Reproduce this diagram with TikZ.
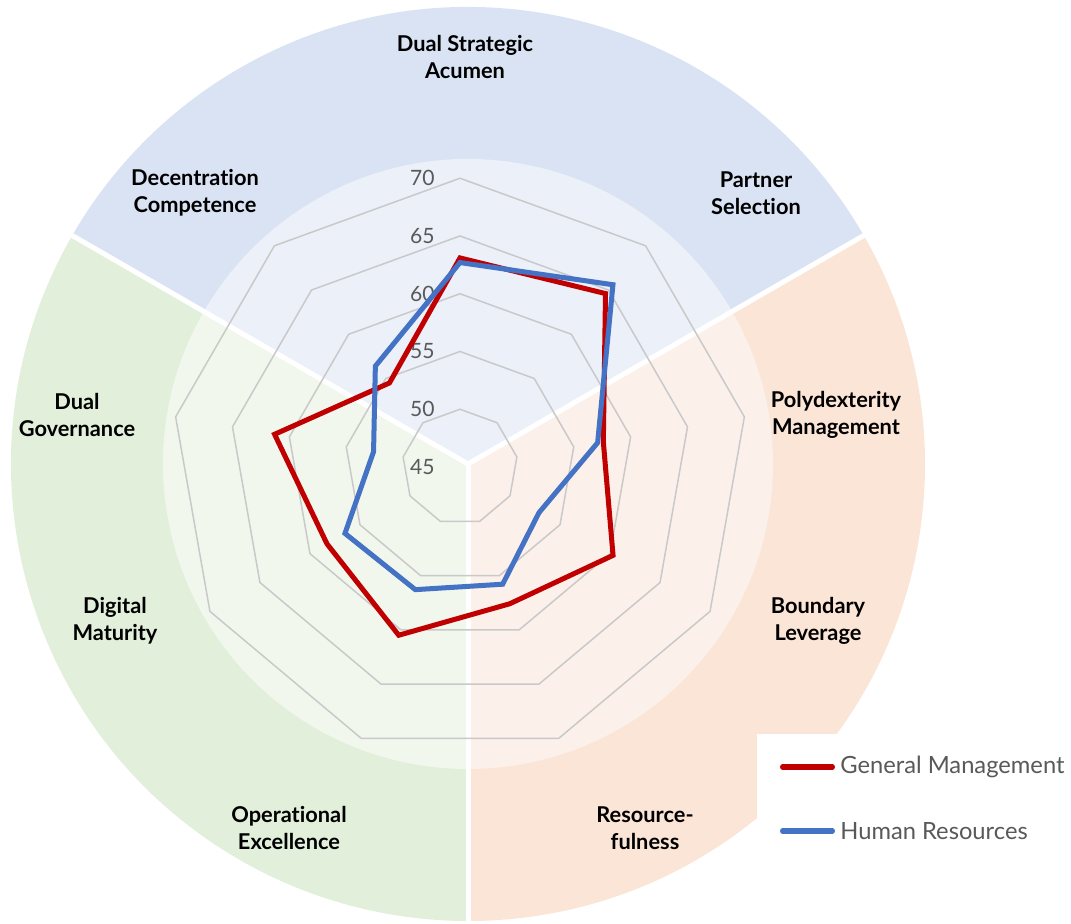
\documentclass[tikz,border=0pt]{standalone}
\usepackage{fontspec}
\setmainfont{Lato}[Ligatures=NoCommon]
\usetikzlibrary{positioning}

\definecolor{sectblue}{HTML}{DAE3F3}
\definecolor{sectbluein}{HTML}{EBF0F9}
\definecolor{sectgreen}{HTML}{E2EFDA}
\definecolor{sectgreenin}{HTML}{F1F7ED}
\definecolor{sectorange}{HTML}{FBE5D6}
\definecolor{sectorangein}{HTML}{FCF0EA}
\definecolor{gmred}{HTML}{C00000}
\definecolor{hrblue}{HTML}{4472C4}
\definecolor{txtgray}{HTML}{595959}
\definecolor{gridgray}{HTML}{C9C9C9}

\tikzset{
	axislabel/.style={font=\bfseries\fontsize{12.4}{15.3}\selectfont, align=center, text=black},
	scalelabel/.style={font=\fontsize{12}{14}\selectfont, text=txtgray, anchor=east, inner sep=0pt},
	gridline/.style={gridgray, line width=0.85pt},
	series/.style={line width=2.85pt},
	legendtext/.style={font=\fontsize{13.5}{16}\selectfont, text=txtgray, anchor=west, inner sep=0pt}
}

\begin{document}
\begin{tikzpicture}
	\def \R{9.14cm}
	\def \r{6.1cm}
	\def \u{0.231}
	
	\useasboundingbox (-9.2,-9.14) rectangle (12.22,9.34);
	
	% sectors
	\coordinate (c) at (0.16,0.06);
	\fill[sectblue]   (c) -- ++(30:\R)  arc (30:150:\R)  -- cycle;
	\fill[sectgreen]  (c) -- ++(150:\R) arc (150:270:\R) -- cycle;
	\fill[sectorange] (c) -- ++(270:\R) arc (270:390:\R) -- cycle;
	
	\fill[sectbluein]   (c) -- ++(30:\r)  arc (30:150:\r)  -- cycle;
	\fill[sectgreenin]  (c) -- ++(150:\r) arc (150:270:\r) -- cycle;
	\fill[sectorangein] (c) -- ++(270:\r) arc (270:390:\r) -- cycle;
	
	\foreach \a in {30,150,270}
		\draw[white, line width=0.1cm] (c) -- ++(\a:9.6);
	
	% grid
	\foreach \v in {50,55,...,70}
		\draw[gridline] (90:{(\v-45)*\u}) \foreach \k in {1,...,8} { -- ({90-40*\k}:{(\v-45)*\u}) } -- cycle;
	
	\foreach \v in {45,50,...,70}
		\node[scalelabel] (s\v) at (-0.5,{(\v-45)*\u}) {\v};
	
	% series
	\foreach \v [count=\i from 0] in {63.1,64.6,57.6,60.3,57.6,60.5,58.3,61.3,54.5}
		\coordinate (gm\i) at ({90-40*\i}:{(\v-45)*\u});
	\foreach \v [count=\i from 0] in {62.7,65.6,57.1,52.9,55.8,56.3,56.5,52.6,56.4}
		\coordinate (hr\i) at ({90-40*\i}:{(\v-45)*\u});
	
	\draw[series, gmred] (gm0) -- (gm1) -- (gm2) -- (gm3) -- (gm4) -- (gm5) -- (gm6) -- (gm7) -- (gm8) -- cycle;
	\draw[series, hrblue] (hr0) -- (hr1) -- (hr2) -- (hr3) -- (hr4) -- (hr5) -- (hr6) -- (hr7) -- (hr8) -- cycle;
	
	% axis labels
	\node[axislabel] (dsa) at (0.1,8.2) {Dual Strategic\\Acumen};
	\node[axislabel] (ps) at (5.92,5.48) {Partner\\Selection};
	\node[axislabel] (pm) at (7.52,1.04) {Polydexterity\\Management};
	\node[axislabel] (bl) at (7.16,-3.08) {Boundary\\Leverage};
	\node[axislabel] (rf) at (3.7,-7.22) {Resource-\\fulness};
	\node[axislabel] (oe) at (-3.42,-7.22) {Operational\\Excellence};
	\node[axislabel] (dm) at (-6.9,-3.08) {Digital\\Maturity};
	\node[axislabel] (dg) at (-7.66,1.04) {Dual\\Governance};
	\node[axislabel] (dc) at (-5.3,5.48) {Decentration\\Competence};
	
	% legend
	\fill[white] (5.94,-5.34) rectangle (12.22,-8.26);
	\node[legendtext] (gmleg) at (7.6,-6.0) {General Management};
	\node[legendtext] (hrleg) at (7.6,-7.28) {Human Resources};
	\coordinate (gmstart) at (6.45,-6.0);
	\coordinate (hrstart) at (6.45,-7.28);
	\draw[series, gmred, line cap=round, shorten >=0.15cm] (gmstart) -- (gmleg.west);
	\draw[series, hrblue, line cap=round, shorten >=0.15cm] (hrstart) -- (hrleg.west);
	
\end{tikzpicture}
\end{document}
